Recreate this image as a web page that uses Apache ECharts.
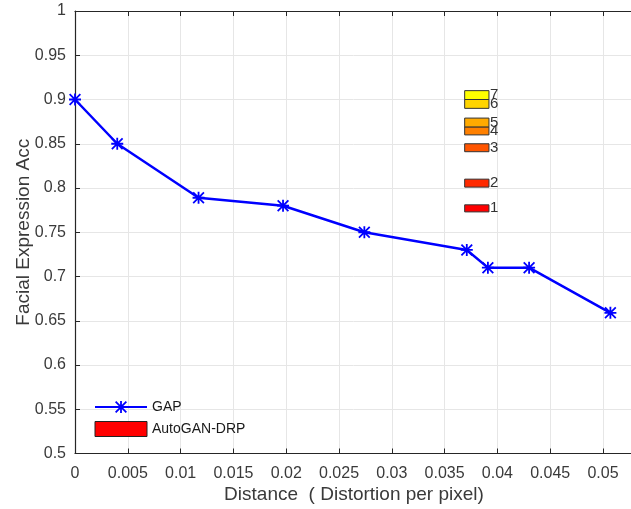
<!DOCTYPE html>
<html>
<head>
<meta charset="utf-8">
<script src="https://cdn.jsdelivr.net/npm/echarts@6/dist/echarts.min.js"></script>
<style>
  html, body { margin: 0; padding: 0; background: #fff; }
  #main { width: 631px; height: 509px; }
</style>
</head>
<body>
<div id="main"></div>
<script>
// GAP 曲线数据
const gapX = [0, 0.004, 0.0117, 0.0197, 0.0274, 0.0371, 0.0391, 0.043, 0.0507];
const gapY = [0.9, 0.85, 0.789, 0.78, 0.75, 0.73, 0.71, 0.71, 0.659];

// AutoGAN-DRP 色块 (x 范围 + y 范围)
const autoIds = ['1', '2', '3', '4', '5', '6', '7'];
const autoXStart = [0.0369, 0.0369, 0.0369, 0.0369, 0.0369, 0.0369, 0.0369];
const autoXEnd = [0.0392, 0.0392, 0.0392, 0.0392, 0.0392, 0.0392, 0.0392];
const autoLow = [0.773, 0.801, 0.841, 0.860, 0.869, 0.890, 0.900];
const autoHigh = [0.781, 0.810, 0.850, 0.869, 0.879, 0.900, 0.910];
const autoColors = ['#ff0000', '#ff2a00', '#ff5500', '#ff8000', '#ffaa00', '#ffd400', '#ffff00'];

const xTickStep = 0.005;
const yTickStep = 0.05;

// MATLAB 风格的星号标记 (加粗)
const starSymbol = 'path://M8.5 0L11.5 0L11.5 20L8.5 20Z M0 8.5L20 8.5L20 11.5L0 11.5Z M2.1 0L20 17.9L17.9 20L0 2.1Z M17.9 0L20 2.1L2.1 20L0 17.9Z';

const chart = echarts.init(document.getElementById('main'));

const axisColor = '#262626';
const labelColor = '#3a3a3a';

const autoData = autoIds.map((id, i) => [autoXStart[i], autoXEnd[i], autoLow[i], autoHigh[i], id]);

chart.setOption({
    animation: false,
    backgroundColor: '#fff',
    textStyle: { fontFamily: 'Liberation Sans, Arial, sans-serif' },
    grid: { left: 75, right: -2, top: 11, bottom: 55.5, outerBoundsMode: 'none', containLabel: false },
    legend: {
        orient: 'vertical',
        left: 89,
        top: 395,
        itemWidth: 52,
        itemHeight: 15,
        itemGap: 7,
        textStyle: { fontSize: 14, color: '#1a1a1a' },
        data: [
            { name: 'GAP' },
            { name: 'AutoGAN-DRP', icon: 'rect', itemStyle: { color: '#ff0000', borderColor: '#222', borderWidth: 1 } }
        ]
    },
    xAxis: [{
        type: 'value',
        min: 0,
        max: 0.05284,
        interval: xTickStep,
        name: 'Distance  ( Distortion per pixel)',
        nameLocation: 'middle',
        nameGap: 32,
        nameMoveOverlap: false,
        nameTextStyle: { fontSize: 19, color: labelColor },
        axisLine: { onZero: false, lineStyle: { color: axisColor, width: 1.2 } },
        axisTick: { inside: true, length: 5, lineStyle: { color: axisColor } },
        axisLabel: {
            fontSize: 16, color: labelColor, margin: 12, showMaxLabel: false,
            formatter: v => String(+v.toFixed(4))
        },
        splitLine: { show: true, lineStyle: { color: '#e6e6e6', width: 1 } }
    }, {
        type: 'value',
        position: 'top',
        min: 0,
        max: 0.05284,
        interval: xTickStep,
        axisLine: { onZero: false, lineStyle: { color: axisColor, width: 1.2 } },
        axisTick: { inside: true, length: 5, lineStyle: { color: axisColor } },
        axisLabel: { show: false },
        splitLine: { show: false }
    }],
    yAxis: {
        type: 'value',
        min: 0.5,
        max: 1,
        interval: yTickStep,
        name: 'Facial Expression Acc',
        nameLocation: 'middle',
        nameGap: 42,
        nameMoveOverlap: false,
        nameTextStyle: { fontSize: 19, color: labelColor },
        axisLine: { show: true, onZero: false, lineStyle: { color: axisColor, width: 1.2 } },
        axisTick: { show: true, inside: true, length: 5, lineStyle: { color: axisColor } },
        axisLabel: { fontSize: 16, color: labelColor, margin: 9 },
        splitLine: { show: true, lineStyle: { color: '#e6e6e6', width: 1 } }
    },
    series: [{
        name: 'GAP',
        type: 'line',
        data: gapX.map((x, i) => [x, gapY[i]]),
        symbol: starSymbol,
        symbolSize: 12,
        itemStyle: { color: '#0000ff' },
        lineStyle: { color: '#0000ff', width: 2.5 },
        z: 3
    }, {
        name: 'AutoGAN-DRP',
        type: 'custom',
        data: autoData,
        itemStyle: { color: '#ff0000', borderColor: '#222', borderWidth: 1 },
        encode: { x: [0, 1], y: [2, 3] },
        renderItem: function (params, api) {
            const p1 = api.coord([api.value(0), api.value(3)]);
            const p2 = api.coord([api.value(1), api.value(2)]);
            const idx = params.dataIndex;
            return {
                type: 'group',
                children: [{
                    type: 'rect',
                    shape: { x: p1[0], y: p1[1], width: p2[0] - p1[0], height: p2[1] - p1[1] },
                    style: { fill: autoColors[idx], stroke: '#333', lineWidth: 1 }
                }, {
                    type: 'text',
                    x: p2[0] + 1,
                    y: (p1[1] + p2[1]) / 2,
                    style: {
                        text: autoIds[idx],
                        fill: '#333',
                        fontSize: 15,
                        fontFamily: 'Liberation Sans, Arial, sans-serif',
                        verticalAlign: 'middle',
                        align: 'left'
                    }
                }]
            };
        },
        z: 2
    }]
});
</script>
</body>
</html>
